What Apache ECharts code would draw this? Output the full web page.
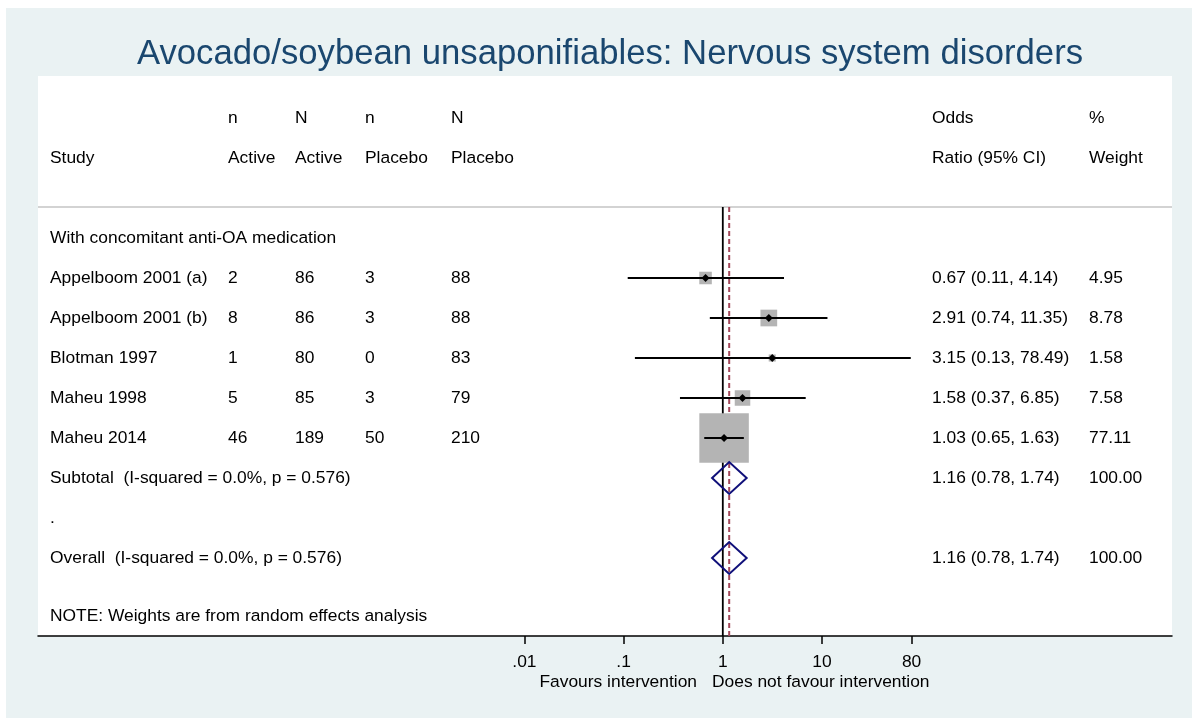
<!DOCTYPE html>
<html>
<head>
<meta charset="utf-8">
<script src="https://cdn.jsdelivr.net/npm/echarts@6/dist/echarts.min.js"></script>
<style>
html,body{margin:0;padding:0;background:#fff;}
#main{width:1192px;height:718px;}
</style>
</head>
<body>
<div id="main"></div>
<script>
// study data
const studies = ['Appelboom 2001 (a)', 'Appelboom 2001 (b)', 'Blotman 1997', 'Maheu 1998', 'Maheu 2014'];
const nActive = [2, 8, 1, 5, 46];
const NActive = [86, 86, 80, 85, 189];
const nPlacebo = [3, 3, 0, 3, 50];
const NPlacebo = [88, 88, 83, 79, 210];
const oddsRatio = [0.67, 2.91, 3.15, 1.58, 1.03];
const ciLow = [0.11, 0.74, 0.13, 0.37, 0.65];
const ciHigh = [4.14, 11.35, 78.49, 6.85, 1.63];
const weights = [4.95, 8.78, 1.58, 7.58, 77.11];

// pooled estimates
const pooledLabels = ['Subtotal  (I-squared = 0.0%, p = 0.576)', 'Overall  (I-squared = 0.0%, p = 0.576)'];
const pooledOR = [1.16, 1.16];
const pooledLow = [0.78, 0.78];
const pooledHigh = [1.74, 1.74];
const pooledWeight = [100.00, 100.00];

// x axis ticks
const tickValues = [0.01, 0.1, 1, 10, 80];
const tickLabels = ['.01', '.1', '1', '10', '80'];

// row layout (row units, 0 = subgroup heading)
const studyRows = [1, 2, 3, 4, 5];
const pooledRows = [6, 8];
const headRow1 = -3, headRow2 = -2, sepRow = -0.775;
const colX = {study: 50, nA: 228, NA: 295, nP: 365, NP: 451, or: 932, wt: 1089};

const lg = v => Math.log10(v);
const fmt = v => v.toFixed(2);
const FONT = '"Liberation Sans", Arial, sans-serif';
const FS = 17.4;

function textSeries(items) {
  return {
    type: 'scatter', xAxisIndex: 1, yAxisIndex: 0, symbolSize: 0, silent: true, z: 5,
    itemStyle: {opacity: 1},
    data: items.map(t => ({value: [t[0], t[1]], name: String(t[2])})),
    label: {show: true, position: [0, 0], align: 'left', verticalAlign: 'middle',
      formatter: '{b}', color: '#000', fontSize: FS, fontFamily: FONT}
  };
}

const txt = [];
[['n', colX.nA], ['N', colX.NA], ['n', colX.nP], ['N', colX.NP], ['Odds', colX.or], ['%', colX.wt]]
  .forEach(h => txt.push([h[1], headRow1, h[0]]));
[['Study', colX.study], ['Active', colX.nA], ['Active', colX.NA], ['Placebo', colX.nP], ['Placebo', colX.NP],
 ['Ratio (95% CI)', colX.or], ['Weight', colX.wt]]
  .forEach(h => txt.push([h[1], headRow2, h[0]]));
txt.push([colX.study, 0, 'With concomitant anti-OA medication']);
studies.forEach((s, i) => {
  const r = studyRows[i];
  txt.push([colX.study, r, s]);
  txt.push([colX.nA, r, nActive[i]]);
  txt.push([colX.NA, r, NActive[i]]);
  txt.push([colX.nP, r, nPlacebo[i]]);
  txt.push([colX.NP, r, NPlacebo[i]]);
  txt.push([colX.or, r, fmt(oddsRatio[i]) + ' (' + fmt(ciLow[i]) + ', ' + fmt(ciHigh[i]) + ')']);
  txt.push([colX.wt, r, fmt(weights[i])]);
});
pooledLabels.forEach((s, i) => {
  const r = pooledRows[i];
  txt.push([colX.study, r, s]);
  txt.push([colX.or, r, fmt(pooledOR[i]) + ' (' + fmt(pooledLow[i]) + ', ' + fmt(pooledHigh[i]) + ')']);
  txt.push([colX.wt, r, fmt(pooledWeight[i])]);
});
txt.push([colX.study, 7, '.']);
txt.push([colX.study, 9.45, 'NOTE: Weights are from random effects analysis']);

const maxW = Math.max(...weights);
const yMin = -4.05, yMax = 9.95;

const chart = echarts.init(document.getElementById('main'), null, {renderer: 'canvas'});
chart.setOption({
  animation: false,
  backgroundColor: '#fff',
  textStyle: {fontFamily: FONT},
  title: {
    text: 'Avocado/soybean unsaponifiables: Nervous system disorders',
    left: 605, top: 29, textAlign: 'center',
    textStyle: {color: '#1A476F', fontSize: 34.7, fontWeight: 'normal', fontFamily: FONT, lineHeight: 40}
  },
  graphic: [
    {type: 'rect', z: -100, silent: true, shape: {x: 6, y: 8, width: 1186, height: 710}, style: {fill: '#EAF2F3'}},
    {type: 'text', silent: true, x: 697, y: 682, style: {text: 'Favours intervention', align: 'right', verticalAlign: 'middle', fontSize: FS, fontFamily: FONT, fill: '#000'}},
    {type: 'text', silent: true, x: 712, y: 682, style: {text: 'Does not favour intervention', align: 'left', verticalAlign: 'middle', fontSize: FS, fontFamily: FONT, fill: '#000'}}
  ],
  grid: {left: 38, right: 20, top: 76, bottom: 82, show: true, backgroundColor: '#fff', borderWidth: 0, containLabel: false},
  xAxis: [
    {
      type: 'value', min: (38 - 722.8) / 99.2, max: (1172 - 722.8) / 99.2,
      splitLine: {show: false},
      axisLine: {show: true, onZero: false, lineStyle: {color: '#000', width: 1.5}},
      axisTick: {show: true, length: 8, customValues: tickValues.map(lg), lineStyle: {color: '#000', width: 1.5}},
      axisLabel: {
        show: true, margin: 18, customValues: tickValues.map(lg), fontSize: FS, color: '#000', fontFamily: FONT,
        formatter: v => {
          const i = tickValues.findIndex(t => Math.abs(lg(t) - v) < 1e-6);
          return i >= 0 ? tickLabels[i] : '';
        }
      }
    },
    {type: 'value', min: 38, max: 1172, show: false}
  ],
  yAxis: {type: 'value', inverse: true, min: yMin, max: yMax, show: false},
  series: [
    // separator line
    {type: 'line', xAxisIndex: 1, symbol: 'none', silent: true, z: 1,
      lineStyle: {color: '#c4c4c4', width: 1.5}, data: [[38, sepRow], [1172, sepRow]]},
    // null line
    {type: 'line', xAxisIndex: 0, symbol: 'none', silent: true, z: 1,
      lineStyle: {color: '#000', width: 1.8}, data: [[0, sepRow], [0, yMax]]},
    // overall effect line
    {type: 'line', xAxisIndex: 0, symbol: 'none', silent: true, z: 1,
      lineStyle: {color: '#a3485a', width: 2, type: [5, 3]}, data: [[lg(pooledOR[1]), sepRow], [lg(pooledOR[1]), yMax]]},
    // weight boxes
    {type: 'scatter', xAxisIndex: 0, symbol: 'rect', silent: true, z: 2,
      itemStyle: {color: '#b4b4b4', opacity: 1},
      symbolSize: (v, p) => 49.5 * Math.sqrt(weights[p.dataIndex] / maxW),
      data: oddsRatio.map((o, i) => [lg(o), studyRows[i]])},
    // confidence intervals
    {type: 'custom', xAxisIndex: 0, silent: true, z: 3,
      data: oddsRatio.map((o, i) => [lg(ciLow[i]), lg(ciHigh[i]), studyRows[i]]),
      renderItem: (params, api) => {
        const a = api.coord([api.value(0), api.value(2)]);
        const b = api.coord([api.value(1), api.value(2)]);
        return {type: 'line', shape: {x1: a[0], y1: a[1], x2: b[0], y2: b[1]},
          style: {stroke: '#000', lineWidth: 2}};
      }},
    // point estimates
    {type: 'scatter', xAxisIndex: 0, symbol: 'diamond', symbolSize: 8, silent: true, z: 4,
      itemStyle: {color: '#000', opacity: 1},
      data: oddsRatio.map((o, i) => [lg(o), studyRows[i]])},
    // pooled diamonds
    {type: 'custom', xAxisIndex: 0, silent: true, z: 4,
      data: pooledOR.map((o, i) => [lg(pooledLow[i]), lg(o), lg(pooledHigh[i]), pooledRows[i]]),
      renderItem: (params, api) => {
        const r = api.value(3);
        const p1 = api.coord([api.value(0), r]);
        const p2 = api.coord([api.value(1), r - 0.4]);
        const p3 = api.coord([api.value(2), r]);
        const p4 = api.coord([api.value(1), r + 0.4]);
        return {type: 'polygon', shape: {points: [p1, p2, p3, p4]},
          style: {fill: 'none', stroke: '#10107a', lineWidth: 2}};
      }},
    textSeries(txt)
  ]
});
window.addEventListener('resize', () => chart.resize());
</script>
</body>
</html>
